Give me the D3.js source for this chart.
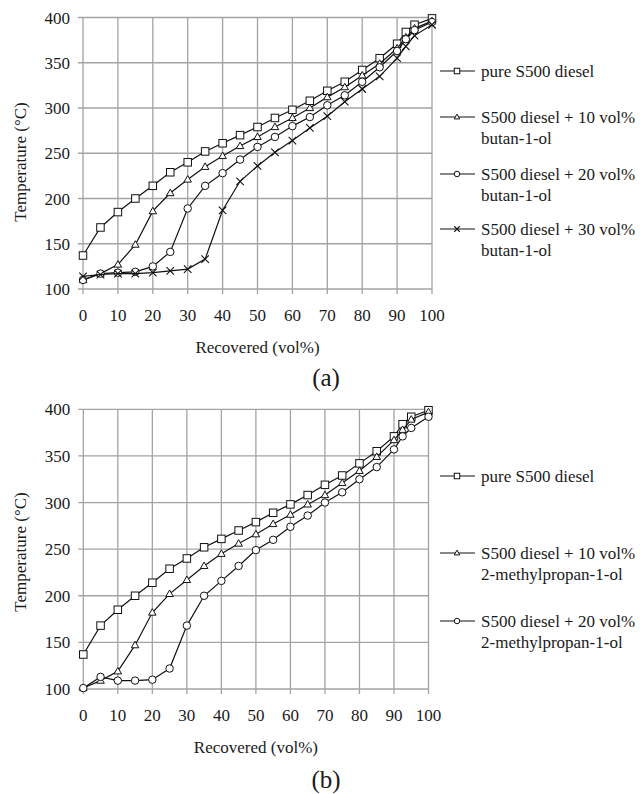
<!DOCTYPE html>
<html>
<head>
<meta charset="utf-8">
<script src="https://cdn.jsdelivr.net/npm/d3@7"></script>
<style>
  body { margin: 0; background: #fff; }
</style>
</head>
<body>
<div id="visualization"></div>
<script>
// recovered volume (%), shared by every series
var recovered = [0, 5, 10, 15, 20, 25, 30, 35, 40, 45, 50, 55, 60, 65, 70, 75, 80, 85, 90, 92.5, 95, 100]

// distillation temperatures (°C)
var pureDiesel = [137, 168, 185, 200, 214, 229, 240, 252, 261, 270, 279, 289, 298, 308, 319, 329, 342, 355, 371, 384, 392, 399]
var butanol10 = [110, 117, 127, 149, 186, 206, 221, 235, 247, 258, 268, 279, 289, 300, 312, 323, 336, 349, 366, 378, 388, 396]
var butanol20 = [110, 117, 118, 119, 125, 141, 189, 214, 228, 243, 257, 268, 280, 290, 303, 314, 329, 345, 363, 376, 386, 395]
var butanol30 = [114, 116, 117, 117, 118, 120, 122, 133, 187, 219, 236, 251, 264, 278, 291, 307, 321, 335, 355, 368, 380, 392]
var methylpropanol10 = [101, 109, 119, 147, 182, 202, 217, 232, 245, 256, 266, 277, 287, 298, 308, 321, 334, 349, 367, 378, 389, 397]
var methylpropanol20 = [101, 113, 109, 109, 110, 122, 168, 200, 216, 232, 249, 260, 274, 286, 300, 311, 325, 338, 357, 371, 380, 392]

var xTicks = [0, 10, 20, 30, 40, 50, 60, 70, 80, 90, 100]
var yTicks = [100, 150, 200, 250, 300, 350, 400]

var panelA = [
    { label: ['pure S500 diesel'], marker: 'square', values: pureDiesel },
    { label: ['S500 diesel + 10 vol%', 'butan-1-ol'], marker: 'triangle', values: butanol10 },
    { label: ['S500 diesel + 20 vol%', 'butan-1-ol'], marker: 'circle', values: butanol20 },
    { label: ['S500 diesel + 30 vol%', 'butan-1-ol'], marker: 'cross', values: butanol30 }
]
var panelB = [
    { label: ['pure S500 diesel'], marker: 'square', values: pureDiesel },
    { label: ['S500 diesel + 10 vol%', '2-methylpropan-1-ol'], marker: 'triangle', values: methylpropanol10 },
    { label: ['S500 diesel + 20 vol%', '2-methylpropan-1-ol'], marker: 'circle', values: methylpropanol20 }
]

const width = 643
const height = 794
const gridColor = '#a3a3a3'
const serif = "'Liberation Serif', 'Times New Roman', Tinos, serif"

const svg = d3.select('#visualization')
    .append('svg')
    .attr('width', width)
    .attr('height', height)
    .attr('font-family', serif)
    .style('background', '#fff')

// draws one hollow marker of the given kind into g
function marker(g, kind, s) {
    if (kind === 'square') {
        g.append('rect').attr('x', -s / 2).attr('y', -s / 2).attr('width', s).attr('height', s)
            .attr('fill', '#fff').attr('stroke', '#111').attr('stroke-width', 1)
    } else if (kind === 'circle') {
        g.append('circle').attr('r', s / 2)
            .attr('fill', '#fff').attr('stroke', '#111').attr('stroke-width', 1)
    } else if (kind === 'triangle') {
        let h = s * 0.87
        g.append('path').attr('d', `M0 ${-h * 0.6} L${s / 2} ${h * 0.4} L${-s / 2} ${h * 0.4} Z`)
            .attr('fill', '#fff').attr('stroke', '#111').attr('stroke-width', 1)
    } else {
        let r = s / 2
        g.append('path').attr('d', `M${-r} ${-r} L${r} ${r} M${-r} ${r} L${r} ${-r}`)
            .attr('stroke', '#111').attr('stroke-width', 1.1)
    }
}

function label(g) {
    return g.append('text')
        .attr('font-family', serif)
        .attr('fill', '#1a1a1a')
        .attr('font-size', 17)
}

function panel(series, box) {
    var x = d3.scaleLinear().domain([0, 100]).range([box.left, box.right])
    var y = d3.scaleLinear().domain([100, 400]).range([box.bottom, box.top])
    var g = svg.append('g')

    // grid
    g.selectAll('.vgrid').data(xTicks).enter().append('line')
        .attr('x1', d => x(d)).attr('x2', d => x(d))
        .attr('y1', box.top).attr('y2', box.bottom + 5)
        .attr('stroke', gridColor).attr('stroke-width', 1.3)
    g.selectAll('.hgrid').data(yTicks).enter().append('line')
        .attr('x1', box.left - 5).attr('x2', box.right)
        .attr('y1', d => y(d)).attr('y2', d => y(d))
        .attr('stroke', gridColor).attr('stroke-width', 1.3)

    // tick labels
    xTicks.forEach(d => {
        label(g).attr('x', x(d)).attr('y', box.bottom + 32)
            .attr('text-anchor', 'middle').text(d)
    })
    yTicks.forEach(d => {
        label(g).attr('x', box.left - 13).attr('y', y(d) + 6)
            .attr('text-anchor', 'end').text(d)
    })

    // axis titles
    label(g).attr('x', x(50)).attr('y', box.bottom + 64)
        .attr('text-anchor', 'middle')
        .text('Recovered (vol%)')
    label(g).attr('transform', `translate(26,${box.titleY}) rotate(-90)`)
        .attr('text-anchor', 'middle')
        .text('Temperature (°C)')
    label(g).attr('x', 326).attr('y', box.tag.y)
        .attr('text-anchor', 'middle').attr('font-size', 25)
        .text(box.tag.text)

    var line = d3.line().x(d => x(d[0])).y(d => y(d[1]))

    series.forEach(s => {
        var pts = recovered.map((r, i) => [r, s.values[i]])
        g.append('path').attr('d', line(pts))
            .attr('fill', 'none').attr('stroke', '#111').attr('stroke-width', 1.2)
        pts.forEach(p => {
            var m = g.append('g').attr('transform', `translate(${x(p[0])},${y(p[1])})`)
            marker(m, s.marker, 7.5)
        })
    })

    // legend
    series.forEach((s, i) => {
        var ly = box.legend[i]
        g.append('line').attr('x1', 440).attr('x2', 475).attr('y1', ly).attr('y2', ly)
            .attr('stroke', '#111').attr('stroke-width', 1.2)
        marker(g.append('g').attr('transform', `translate(457,${ly})`), s.marker, 5.5)
        s.label.forEach((t, j) => {
            label(g).attr('x', 481).attr('y', ly + 6 + j * 21).text(t)
        })
    })
}

panel(panelA, {
    left: 83, right: 432, top: 17.5, bottom: 289, titleY: 162,
    tag: { text: '(a)', y: 386 },
    legend: [71, 117, 174, 229]
})
panel(panelB, {
    left: 83.3, right: 428.5, top: 409.3, bottom: 689, titleY: 552,
    tag: { text: '(b)', y: 788 },
    legend: [476, 553, 621]
})
</script>
</body>
</html>
